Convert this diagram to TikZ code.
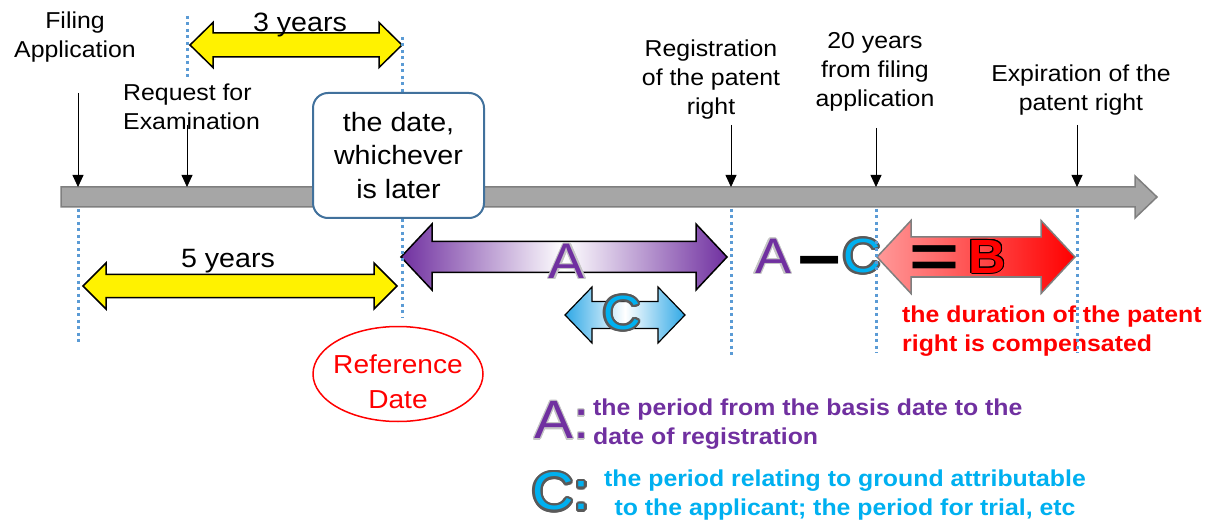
\documentclass[tikz,border=0pt]{standalone}
\usepackage{fontspec}
\setmainfont{Liberation Sans}[FakeStretch=1.08]
\usepackage{contour}
\usetikzlibrary{arrows.meta,shapes.geometric}
\definecolor{dotblue}{HTML}{5B9BD5}
\definecolor{boxblue}{HTML}{41719C}
\definecolor{purp}{HTML}{7030A0}
\definecolor{cblue}{HTML}{00B0F0}
\definecolor{cblueB}{HTML}{2FA8E6}
\definecolor{cgray}{HTML}{595959}
\definecolor{bargray}{HTML}{A6A6A6}
\definecolor{baredge}{HTML}{7F7F7F}
\newcommand{\dblarrow}[7]{\path[#1] (#2,#4) -- (#2+#7,#4-#6) -- (#2+#7,#4-#5) -- (#3-#7,#4-#5) -- (#3-#7,#4-#6) -- (#3,#4) -- (#3-#7,#4+#6) -- (#3-#7,#4+#5) -- (#2+#7,#4+#5) -- (#2+#7,#4+#6) -- cycle;}
\newcommand{\fs}[2]{\fontsize{#1}{#2}\selectfont}
\begin{document}
\begin{tikzpicture}[x=1pt,y=-1pt,
  lbl/.style={inner sep=0pt, align=center, anchor=north, font=\fs{23}{29}},
  dotln/.style={dotblue, line width=3pt, dash pattern=on 3pt off 3.5pt},
  pin/.style={-{Triangle[length=12pt,width=11pt]}, line width=0.8pt},
  yel/.style={fill=yellow, draw=black, line width=1.5pt},
  boldtxt/.style={inner sep=0pt, font=\bfseries\fs{23}{29}},
]
\path[use as bounding box] (0,0) rectangle (1212,521);

% timeline
\path[fill=bargray, draw=baredge, line width=1.5pt] (61,187) -- (1135,187) -- (1135,176) -- (1157,197) -- (1135,218) -- (1135,207) -- (61,207) -- cycle;

% labels
\node[lbl] (filing) at (75,12) {Filing\\Application};
\node[lbl, anchor=north west, align=left] (request) at (123,84) {Request for\\Examination};
\node[lbl] (regist) at (711,40) {Registration\\of the patent\\right};
\node[lbl] (twenty) at (875,32) {20 years\\from filing\\application};
\node[lbl] (expir) at (1081,65) {Expiration of the\\patent right};

% pins
\coordinate (p1s) at (78,93);   \coordinate (p1e) at (78,187);
\coordinate (p2s) at (187,125); \coordinate (p2e) at (187,187);
\coordinate (p3s) at (731,125); \coordinate (p3e) at (731,187);
\coordinate (p4s) at (876,128); \coordinate (p4e) at (876,187);
\coordinate (p5s) at (1077,125);\coordinate (p5e) at (1077,187);
\foreach \i in {1,...,5} \draw[pin] (p\i s) -- (p\i e);

% yellow arrows
\dblarrow{yel}{190}{402}{45}{12}{22.5}{23}
\node[lbl, font=\fs{26.5}{30}] (three) at (300,13) {3 years};
\dblarrow{yel}{83}{397}{286}{11.5}{23}{23}
\node[lbl, font=\fs{26.5}{30}] (five) at (228,249) {5 years};

% A arrow
\dblarrow{left color=purp, right color=purp, middle color=white, draw=black, line width=1.5pt}{401}{727}{257}{15.5}{33}{31}
\node[inner sep=0pt] (la) at (567,262) {\fs{50}{50}\contourlength{1.2pt}\contour{gray!45}{\textcolor{purp}{A}}};

% C arrow
\dblarrow{left color=cblueB, right color=cblueB, middle color=white, draw=black, line width=1.2pt}{565}{685}{315}{13.5}{28}{27}
\node[inner sep=0pt] (lc) at (622,314) {\fs{48}{48}\contourlength{2.3pt}\contour{cgray}{\textcolor{cblue}{C}}};

% A - C = B
\dblarrow{left color=red!40, right color=red, draw=baredge, line width=1.5pt}{877}{1075}{257}{20}{36.5}{34}
\node[inner sep=0pt] (ra) at (773,257) {\fs{50}{50}\contourlength{1.2pt}\contour{gray!45}{\textcolor{purp}{A}}};
\node[inner sep=0pt] (minus) at (820,270) {\bfseries\fs{70}{70}−};
\node[inner sep=0pt] (rc) at (862,257) {\fs{48}{48}\contourlength{2.3pt}\contour{cgray}{\textcolor{cblue}{C}}};
\node[inner sep=0pt, xscale=1.1, yscale=0.85] (eq) at (934,262) {\bfseries\fs{72}{72}=};
\node[inner sep=0pt] (rb) at (987,257) {\bfseries\fs{48}{48}\contourlength{1pt}\contour{black}{\textcolor{red}{B}}};

\node[boldtxt, anchor=north west, align=left, text=red] (dur) at (902,306) {the duration of the patent\\right is compensated};

% reference date
\node[ellipse, draw=red, line width=1.5pt, minimum width=170pt, minimum height=95pt] (refell) at (398,374) {};
\node[inner sep=0pt, align=center, text=red, font=\fs{26}{35}] (reftxt) at (398,382) {Reference\\Date};

% legend
\node[inner sep=0pt] (legA) at (562,421) {\fs{54}{54}\contourlength{1.2pt}\contour{gray!45}{\textcolor{purp}{A:}}};
\node[boldtxt, anchor=north west, align=left, text=purp] (legAt) at (593,399) {the period from the basis date to the\\date of registration};
\node[inner sep=0pt] (legC) at (561,493) {\fs{53}{53}\contourlength{2.5pt}\contour{cgray}{\textcolor{cblue}{C:}}};
\node[boldtxt, anchor=north, align=center, text=cblue] (legCt) at (845,470) {the period relating to ground attributable\\to the applicant; the period for trial, etc};

% dotted lines
\coordinate (d1a) at (78,209);  \coordinate (d1b) at (78,342);
\coordinate (d2a) at (187,16);  \coordinate (d2b) at (187,80);
\coordinate (d3a) at (402,37);  \coordinate (d3b) at (402,318);
\coordinate (d4a) at (731,209); \coordinate (d4b) at (731,355);
\coordinate (d5a) at (876,209); \coordinate (d5b) at (876,353);
\coordinate (d6a) at (1077,209);\coordinate (d6b) at (1077,353);
\foreach \i in {1,...,6} \draw[dotln] (d\i a) -- (d\i b);

% box
\node[draw=boxblue, fill=white, line width=2pt, rounded corners=15pt, minimum width=171pt, minimum height=125pt, align=center, inner sep=0pt, font=\fs{26.5}{33.5}] (later) at (398.5,155.5) {the date,\\whichever\\is later};
\end{tikzpicture}
\end{document}
